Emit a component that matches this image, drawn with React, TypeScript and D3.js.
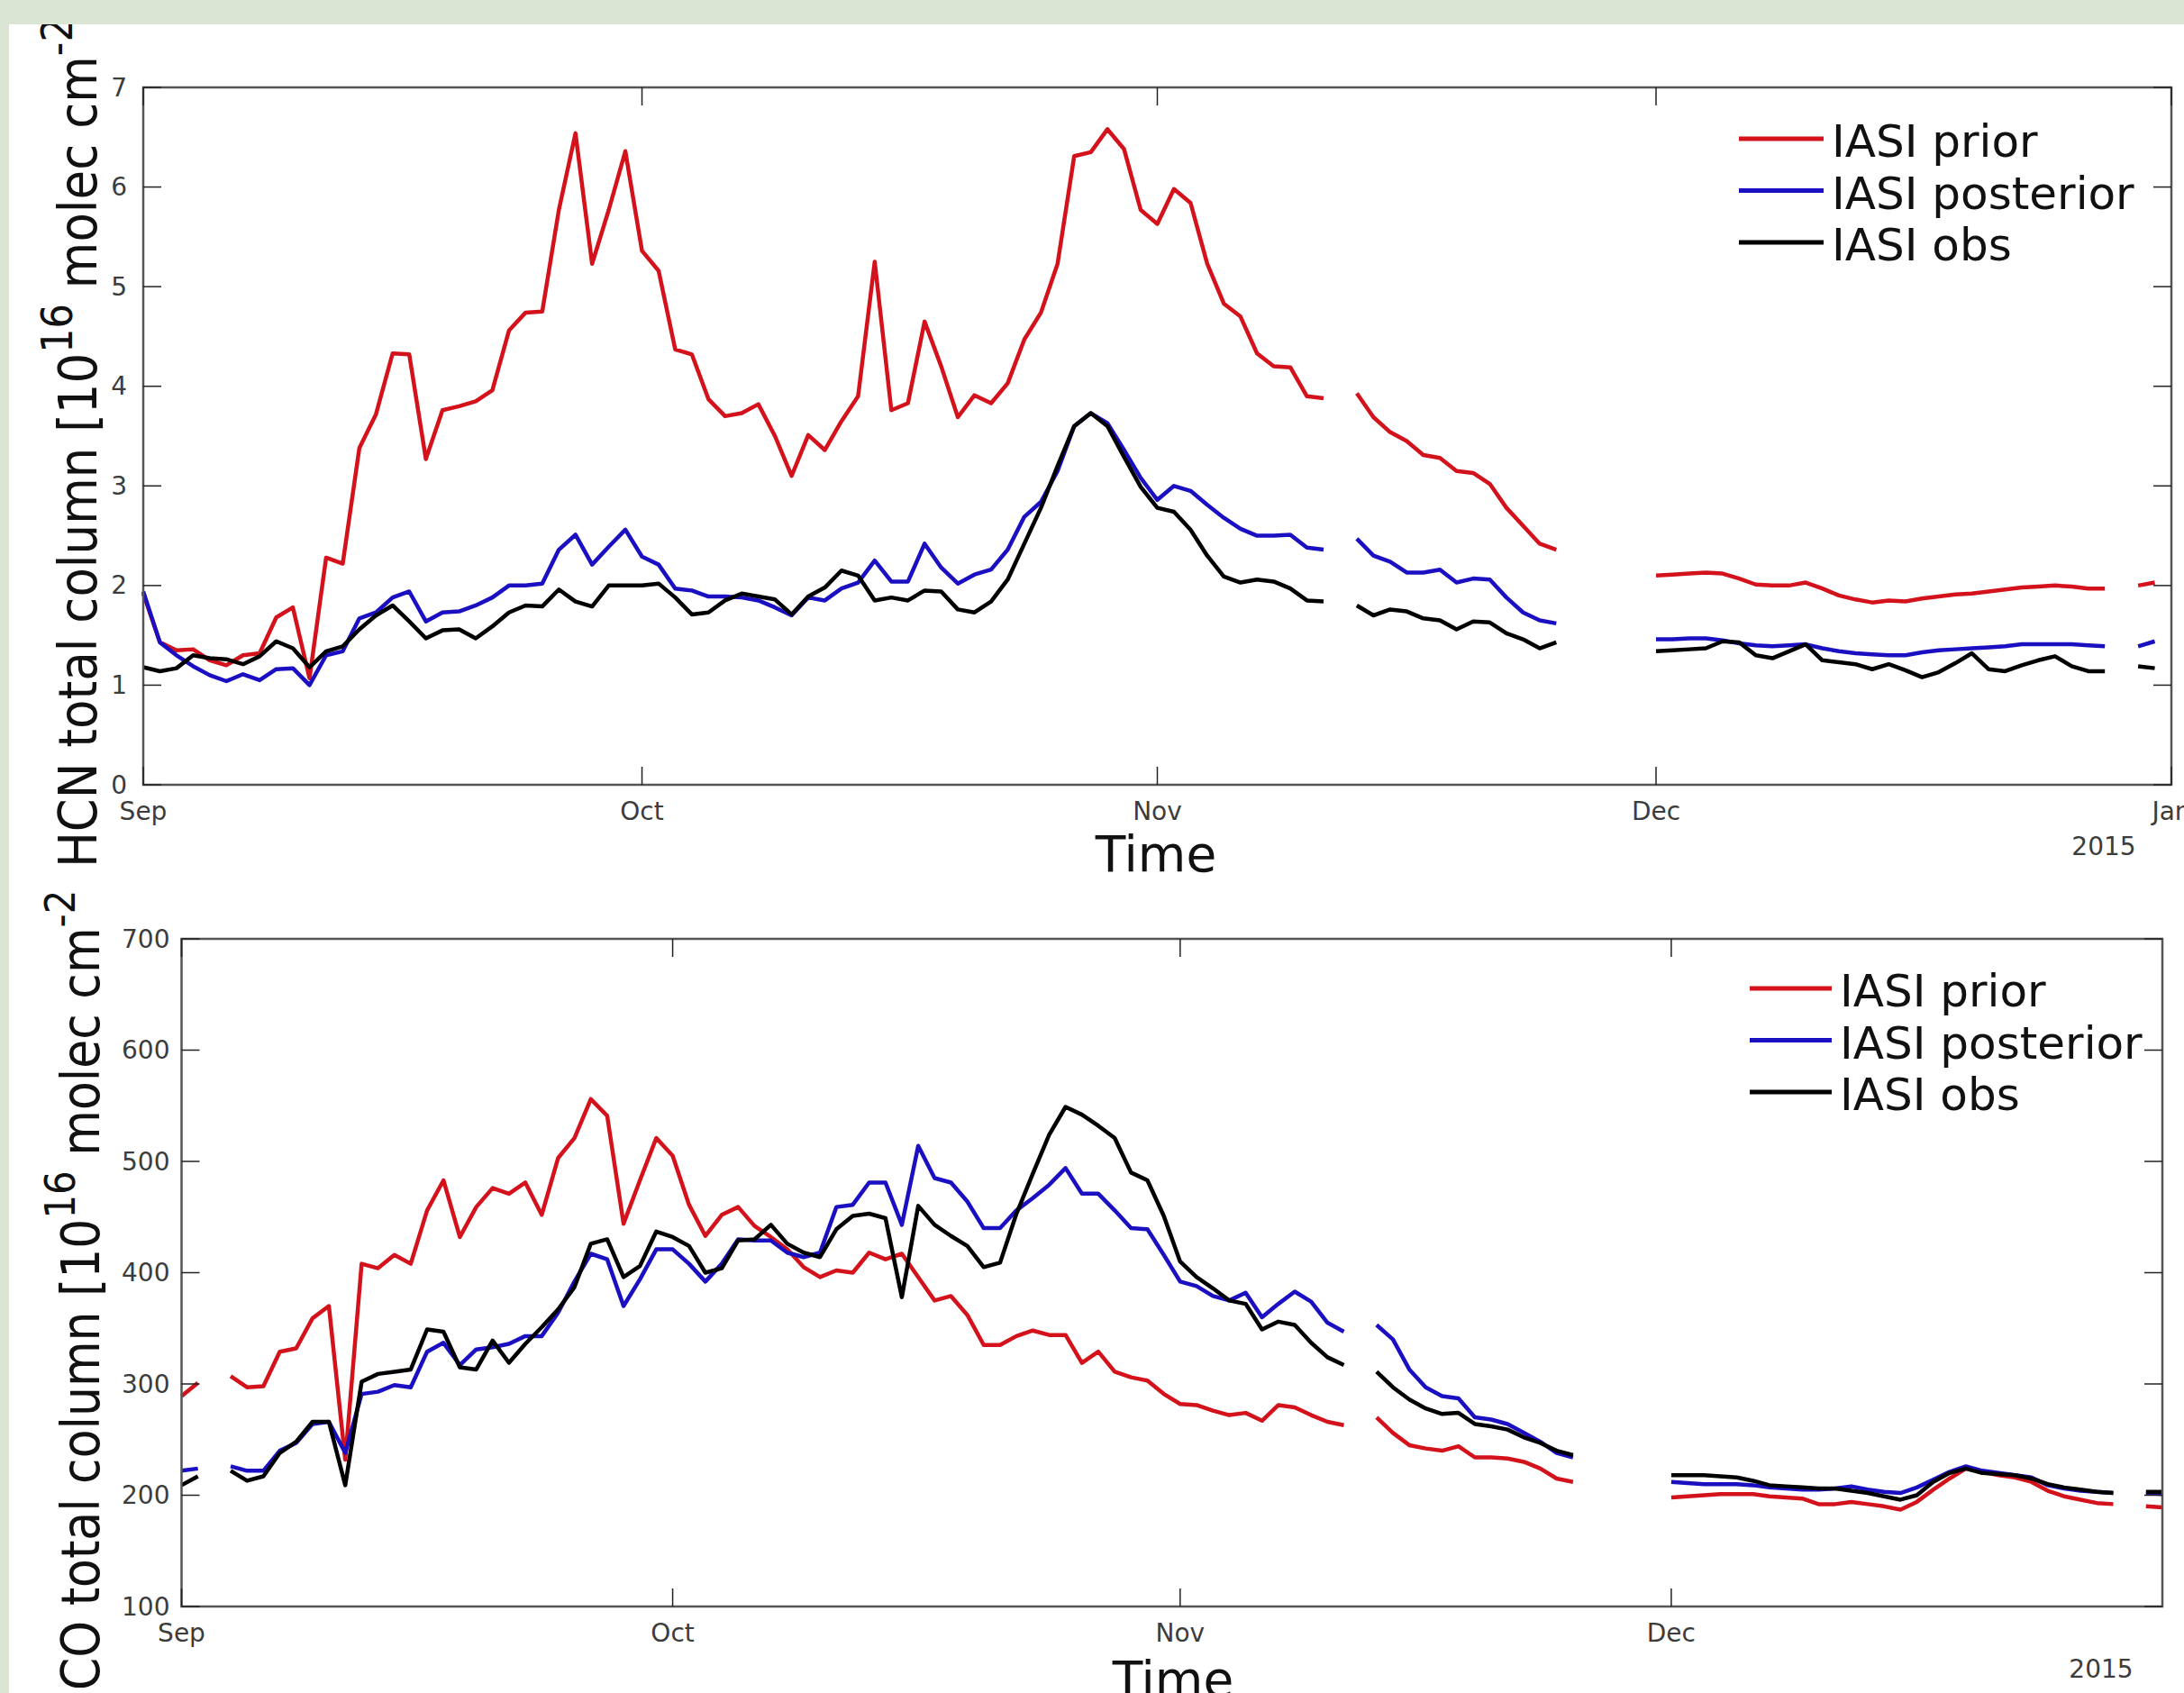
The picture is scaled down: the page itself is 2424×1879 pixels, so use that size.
import React, { useRef, useEffect } from 'react';
import * as d3 from 'd3';

// daily values from 1 Sep 2014, null = no retrieval that day
const startDate = new Date(2014, 8, 1);

const hcnPrior = [
  1.92, 1.43, 1.35, 1.36, 1.25, 1.2, 1.3, 1.32, 1.68, 1.78,
  1.07, 2.28, 2.22, 3.38, 3.72, 4.33, 4.32, 3.27, 3.76, 3.8,
  3.85, 3.96, 4.56, 4.74, 4.75, 5.77, 6.54, 5.23, 5.77, 6.36,
  5.36, 5.16, 4.37, 4.32, 3.87, 3.7, 3.73, 3.82, 3.5, 3.1,
  3.51, 3.36, 3.65, 3.9, 5.25, 3.76, 3.83, 4.65, 4.2, 3.69,
  3.91, 3.83, 4.03, 4.47, 4.74, 5.23, 6.31, 6.35, 6.58, 6.38,
  5.77, 5.63, 5.98, 5.84, 5.23, 4.83, 4.7, 4.33, 4.2, 4.19,
  3.9, 3.88, null, 3.93, 3.69, 3.54, 3.45, 3.31, 3.28, 3.15,
  3.13, 3.02, 2.78, 2.6, 2.42, 2.36, null, null, null, null,
  null, 2.1, 2.11, 2.12, 2.13, 2.12, 2.07, 2.01, 2.0, 2.0,
  2.03, 1.97, 1.9, 1.86, 1.83, 1.85, 1.84, 1.87, 1.89, 1.91,
  1.92, 1.94, 1.96, 1.98, 1.99, 2.0, 1.99, 1.97, 1.97, null,
  2.0, 2.03,
];

const hcnPosterior = [
  1.94, 1.43, 1.3, 1.19, 1.1, 1.04, 1.11, 1.05, 1.16, 1.17,
  1.0, 1.3, 1.34, 1.67, 1.73, 1.88, 1.94, 1.64, 1.73, 1.74,
  1.8, 1.88, 2.0, 2.0, 2.02, 2.36, 2.51, 2.21, 2.39, 2.56,
  2.29, 2.21, 1.97, 1.95, 1.89, 1.89, 1.88, 1.85, 1.78, 1.7,
  1.88, 1.85, 1.97, 2.03, 2.25, 2.04, 2.04, 2.42, 2.18, 2.02,
  2.11, 2.16, 2.36, 2.69, 2.84, 3.15, 3.6, 3.73, 3.63, 3.36,
  3.08, 2.86, 3.0, 2.95, 2.81, 2.68, 2.57, 2.5, 2.5, 2.51,
  2.38, 2.36, null, 2.47, 2.3, 2.24, 2.13, 2.13, 2.16, 2.03,
  2.07, 2.06, 1.88, 1.73, 1.65, 1.62, null, null, null, null,
  null, 1.46, 1.46, 1.47, 1.47, 1.45, 1.42, 1.4, 1.39, 1.4,
  1.41, 1.37, 1.34, 1.32, 1.31, 1.3, 1.3, 1.33, 1.35, 1.36,
  1.37, 1.38, 1.39, 1.41, 1.41, 1.41, 1.41, 1.4, 1.39, null,
  1.39, 1.44,
];

const hcnObs = [
  1.18, 1.14, 1.17, 1.3, 1.27, 1.26, 1.21, 1.29, 1.44, 1.37,
  1.18, 1.34, 1.39, 1.56, 1.7, 1.8, 1.64, 1.47, 1.55, 1.56,
  1.47, 1.59, 1.73, 1.8, 1.79, 1.96, 1.84, 1.79, 2.0, 2.0,
  2.0, 2.02, 1.88, 1.71, 1.73, 1.85, 1.92, 1.89, 1.86, 1.71,
  1.89, 1.98, 2.15, 2.1, 1.85, 1.88, 1.85, 1.95, 1.94, 1.76,
  1.73, 1.84, 2.06, 2.42, 2.78, 3.2, 3.6, 3.73, 3.6, 3.29,
  2.99, 2.78, 2.74, 2.56, 2.3, 2.09, 2.03, 2.06, 2.04, 1.97,
  1.85, 1.84, null, 1.8, 1.7, 1.76, 1.74, 1.67, 1.65, 1.56,
  1.64, 1.63, 1.52, 1.46, 1.37, 1.43, null, null, null, null,
  null, 1.34, 1.35, 1.36, 1.37, 1.44, 1.43, 1.3, 1.27, 1.34,
  1.41, 1.25, 1.23, 1.21, 1.16, 1.21, 1.15, 1.08, 1.13, 1.22,
  1.32, 1.16, 1.14, 1.2, 1.25, 1.29, 1.19, 1.14, 1.14, null,
  1.19, 1.17,
];

const coPrior = [
  289, 301, null, 307, 297, 298, 329, 332, 359, 370,
  232, 408, 404, 416, 408, 456, 483, 432, 459, 476,
  471, 481, 452, 503, 521, 556, 541, 444, 483, 521,
  505, 461, 433, 452, 459, 442, 432, 421, 405, 396,
  402, 400, 418, 412, 417, 396, 375, 379, 362, 335,
  335, 343, 348, 344, 344, 319, 329, 311, 306, 303,
  291, 282, 281, 276, 272, 274, 267, 281, 279, 272,
  266, 263, null, 270, 256, 245, 242, 240, 244, 234,
  234, 233, 230, 224, 215, 212, null, null, null, null,
  null, 198, 199, 200, 201, 201, 201, 199, 198, 197,
  192, 192, 194, 192, 190, 187, 194, 205, 215, 224,
  221, 218, 216, 212, 204, 199, 196, 193, 192, null,
  190, 189,
];

const coPosterior = [
  222, 224, null, 226, 222, 222, 240, 247, 264, 266,
  238, 291, 293, 299, 297, 329, 337, 317, 331, 333,
  336, 343, 343, 364, 392, 417, 412, 370, 394, 421,
  421, 408, 392, 408, 430, 429, 429, 418, 414, 418,
  459, 461, 481, 481, 443, 514, 485, 481, 464, 440,
  440, 456, 467, 479, 494, 471, 471, 456, 440, 439,
  416, 392, 388, 379, 375, 382, 360, 372, 383, 374,
  355, 347, null, 353, 340, 313, 297, 289, 287, 270,
  268, 264, 256, 248, 238, 234, null, null, null, null,
  null, 212, 211, 210, 210, 210, 209, 207, 206, 205,
  205, 206, 208, 205, 203, 202, 207, 214, 221, 226,
  222, 220, 218, 216, 209, 206, 204, 203, 202, null,
  202, 201,
];

const coObs = [
  209, 217, null, 222, 213, 217, 238, 248, 266, 266,
  209, 302, 309, 311, 313, 349, 347, 315, 313, 339,
  319, 336, 351, 367, 387, 426, 430, 396, 406, 437,
  432, 424, 400, 404, 429, 430, 443, 426, 418, 414,
  439, 451, 453, 449, 378, 460, 443, 433, 424, 405,
  409, 453, 489, 524, 549, 542, 532, 521, 490, 483,
  451, 410, 396, 386, 375, 372, 349, 356, 353, 337,
  324, 317, null, 311, 297, 286, 278, 273, 274, 264,
  262, 259, 252, 247, 240, 236, null, null, null, null,
  null, 218, 218, 218, 217, 216, 213, 209, 208, 207,
  206, 206, 204, 202, 199, 196, 200, 212, 220, 224,
  220, 219, 218, 215, 210, 207, 205, 203, 202, null,
  203, 203,
];

const seriesNames = ['IASI prior', 'IASI posterior', 'IASI obs'];
const seriesColors = ['#d3121c', '#1a10c2', '#000000'];
const hcnTicks = [0, 1, 2, 3, 4, 5, 6, 7];
const coTicks = [100, 200, 300, 400, 500, 600, 700];

const W = 2424;
const H = 1879;
const BG = '#dbe5d4';
const FONT = '"DejaVu Sans", sans-serif';

const panels = [
  {
    series: [hcnPrior, hcnPosterior, hcnObs],
    endDate: new Date(2015, 0, 1),
    yDomain: [0, 7],
    yTicks: hcnTicks,
    left: 159, right: 2410, top: 97, bottom: 871,
    clipTop: 27, clipBottom: 975,
    yTickGap: 18,
    label: { x: 107, y: 963, size: 53, parts: ['HCN total column [10', '16', ' molec cm', '-2', ']'] },
    timeX: 1283, timeY: 967,
    yearX: 2335, yearY: 949,
    legend: { x1: 1930, x2: 2024, tx: 2033, y: 154, dy: 57.5 },
  },
  {
    series: [coPrior, coPosterior, coObs],
    endDate: new Date(2014, 11, 31),
    yDomain: [100, 700],
    yTicks: coTicks,
    left: 201.5, right: 2400, top: 1042, bottom: 1783,
    clipTop: 983, clipBottom: 1879,
    yTickGap: 13,
    label: { x: 110, y: 1876, size: 52, parts: ['CO total column [10', '16', ' molec cm', '-2', ']'] },
    timeX: 1302, timeY: 1883,
    yearX: 2332, yearY: 1862,
    legend: { x1: 1942, x2: 2033, tx: 2042, y: 1097, dy: 57.5 },
  },
];

export default function App() {
  const svgRef = useRef<SVGSVGElement>(null);

  useEffect(() => {
    const svg = d3.select(svgRef.current);
    svg.selectAll('*').remove();

    svg.append('rect').attr('width', W).attr('height', H).attr('fill', BG);
    svg.append('rect').attr('x', 10).attr('y', 27)
      .attr('width', W - 10).attr('height', H - 27).attr('fill', '#fff');

    const defs = svg.append('defs');

    panels.forEach((p, pi) => {
      defs.append('clipPath').attr('id', `clip-${pi}`)
        .append('rect')
        .attr('x', 10).attr('y', p.clipTop)
        .attr('width', W - 10).attr('height', p.clipBottom - p.clipTop);

      const g = svg.append('g').attr('clip-path', `url(#clip-${pi})`)
        .style('font-family', FONT);

      const x = d3.scaleTime().domain([startDate, p.endDate]).range([p.left, p.right]);
      const y = d3.scaleLinear().domain(p.yDomain).range([p.bottom, p.top]);

      // data lines
      p.series.forEach((vals, si) => {
        const line = d3.line<number | null>()
          .defined((v) => v != null)
          .x((_, i) => x(d3.timeDay.offset(startDate, i)))
          .y((v) => y(v as number));
        g.append('path')
          .datum(vals)
          .attr('fill', 'none')
          .attr('stroke', seriesColors[si])
          .attr('stroke-width', 4.5)
          .attr('stroke-linejoin', 'round')
          .attr('d', line);
      });

      // axes box
      g.append('rect')
        .attr('x', p.left).attr('y', p.top)
        .attr('width', p.right - p.left).attr('height', p.bottom - p.top)
        .attr('fill', 'none').attr('stroke', '#555').attr('stroke-width', 2.5);

      // month ticks, inward on bottom and top
      const months = x.ticks(d3.timeMonth.every(1));
      const fmt = d3.timeFormat('%b');
      months.forEach((m) => {
        const mx = x(m);
        g.append('line').attr('x1', mx).attr('x2', mx)
          .attr('y1', p.bottom).attr('y2', p.bottom - 20)
          .attr('stroke', '#222').attr('stroke-width', 1.5);
        g.append('line').attr('x1', mx).attr('x2', mx)
          .attr('y1', p.top).attr('y2', p.top + 20)
          .attr('stroke', '#222').attr('stroke-width', 1.5);
        g.append('text').attr('x', mx).attr('y', p.bottom + 39)
          .attr('text-anchor', 'middle')
          .style('font-size', '28px').attr('fill', '#3c3c3c')
          .text(fmt(m));
      });

      // value ticks, inward on left and right
      p.yTicks.forEach((t) => {
        const ty = y(t);
        g.append('line').attr('x1', p.left).attr('x2', p.left + 20)
          .attr('y1', ty).attr('y2', ty)
          .attr('stroke', '#222').attr('stroke-width', 1.5);
        g.append('line').attr('x1', p.right).attr('x2', p.right - 20)
          .attr('y1', ty).attr('y2', ty)
          .attr('stroke', '#222').attr('stroke-width', 1.5);
        g.append('text').attr('x', p.left - p.yTickGap).attr('y', ty)
          .attr('text-anchor', 'end').attr('dominant-baseline', 'central')
          .style('font-size', '28px').attr('fill', '#3c3c3c')
          .text(t);
      });

      // year under the date axis
      g.append('text').attr('x', p.yearX).attr('y', p.yearY)
        .attr('text-anchor', 'middle')
        .style('font-size', '28px').attr('fill', '#3c3c3c')
        .text('2015');

      // x-axis title
      g.append('text').attr('x', p.timeX).attr('y', p.timeY)
        .attr('text-anchor', 'middle')
        .style('font-size', '55px').attr('fill', '#111')
        .text('Time');

      // y-axis title with superscripts
      const supSize = Math.round(p.label.size * 0.81);
      const lab = g.append('text')
        .attr('transform', `translate(${p.label.x},${p.label.y}) scale(1.12,1) rotate(-90)`)
        .style('font-size', `${p.label.size}px`).attr('fill', '#111');
      const [a, sup1, b, sup2, c] = p.label.parts;
      lab.append('tspan').text(a);
      lab.append('tspan').attr('dy', -24).style('font-size', `${supSize}px`).text(sup1);
      lab.append('tspan').attr('dy', 24).text(b);
      lab.append('tspan').attr('dy', -24).style('font-size', `${supSize}px`).text(sup2);
      lab.append('tspan').attr('dy', 24).text(c);

      // legend
      seriesNames.forEach((name, si) => {
        const ly = p.legend.y + si * p.legend.dy;
        g.append('line').attr('x1', p.legend.x1).attr('x2', p.legend.x2)
          .attr('y1', ly).attr('y2', ly)
          .attr('stroke', seriesColors[si]).attr('stroke-width', 5);
        g.append('text').attr('x', p.legend.tx).attr('y', ly + 20)
          .style('font-size', '50px').attr('fill', '#111')
          .text(name);
      });
    });
  }, []);

  return (
    <svg
      ref={svgRef}
      width={W}
      height={H}
      style={{ position: 'absolute', left: 0, top: 0, display: 'block' }}
    />
  );
}
